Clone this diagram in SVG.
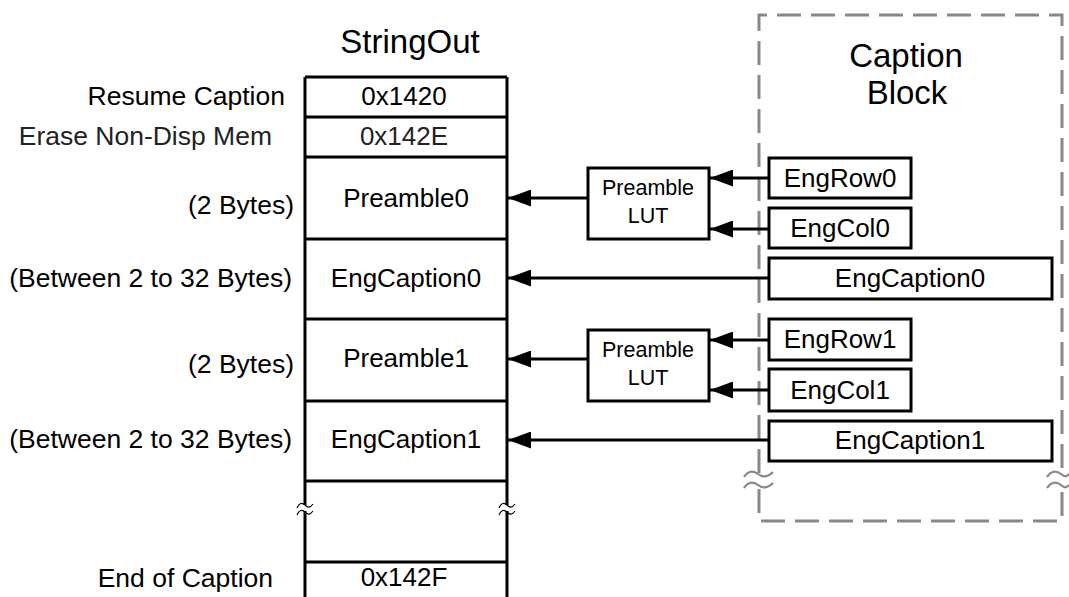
<svg xmlns="http://www.w3.org/2000/svg" width="1069" height="597" viewBox="0 0 1069 597">
  <style>
    text { font-family: "Liberation Sans", Arial, sans-serif; fill: #000; }
    .title { font-size: 33px; text-anchor: middle; }
    .lbl { font-size: 26.5px; text-anchor: end; }
    .cell { font-size: 26px; text-anchor: middle; }
    .thin { fill: #222; }
    .lut { font-size: 21.5px; text-anchor: middle; }
    .box { fill: #fff; stroke: #000; stroke-width: 3; }
    .wall { stroke: #000; stroke-width: 3; fill: none; }
    .conn { stroke: #000; stroke-width: 3; fill: none; marker-end: url(#ah); }
    .brk { stroke: #000; stroke-width: 1.2; fill: none; }
    .dash { stroke: #888; stroke-width: 3; fill: none; stroke-dasharray: 24 10; }
    .gbrk { stroke: #888; stroke-width: 2.2; fill: none; }
  </style>
  <defs>
    <marker id="ah" viewBox="0 0 23 17" refX="23" refY="8.5" markerWidth="23" markerHeight="17" markerUnits="userSpaceOnUse" orient="auto">
      <path d="M0,0 L23,8.5 L0,17 Z" fill="#000"/>
    </marker>
  </defs>

  <!-- Caption block container (dashed, broken near the bottom) -->
  <g id="caption-block">
    <path class="dash" d="M759,473 L759,15 L1062,15 L1062,473"/>
    <path class="dash" d="M759,489 L759,521 L1062,521 L1062,489"/>
    <path class="gbrk" d="M744,477 c4,-6 9,-7 14,-3 s10,3 15,-2"/>
    <path class="gbrk" d="M744,488 c4,-6 9,-7 14,-3 s10,3 15,-2"/>
    <path class="gbrk" d="M1047,477 c4,-6 9,-7 14,-3 s6,2 8,0"/>
    <path class="gbrk" d="M1047,488 c4,-6 9,-7 14,-3 s6,2 8,0"/>
    <text class="title" x="906" y="67" font-size="31">Caption</text>
    <text class="title" x="907" y="104" font-size="31">Block</text>
  </g>

  <!-- StringOut memory column -->
  <g id="stringout">
    <text class="title" x="410" y="53">StringOut</text>
    <path class="wall" d="M305,77 L305,505 M305,511 L305,600"/>
    <path class="wall" d="M507,77 L507,505 M507,511 L507,600"/>
    <path class="wall" d="M305,77 L507,77 M305,117 L507,117 M305,157 L507,157 M305,239 L507,239 M305,319 L507,319 M305,401 L507,401 M305,481 L507,481 M305,562 L507,562"/>
    <path class="brk" d="M297,508 c2,-5 5,-6 8,-3 s5,3 8,-1"/>
    <path class="brk" d="M297,515 c2,-5 5,-6 8,-3 s5,3 8,-1"/>
    <path class="brk" d="M499,508 c2,-5 5,-6 8,-3 s5,3 8,-1"/>
    <path class="brk" d="M499,515 c2,-5 5,-6 8,-3 s5,3 8,-1"/>
  </g>

  <g id="row-resume">
    <text class="lbl" x="285" y="105">Resume Caption</text>
    <text class="cell" x="404" y="105">0x1420</text>
  </g>
  <g id="row-erase">
    <text class="lbl thin" x="272" y="145" font-size="25.5">Erase Non-Disp Mem</text>
    <text class="cell thin" x="404" y="145">0x142E</text>
  </g>
  <g id="row-preamble0">
    <text class="lbl" x="294" y="214">(2 Bytes)</text>
    <text class="cell" x="406" y="207">Preamble0</text>
  </g>
  <g id="row-engcaption0">
    <text class="lbl" x="292" y="287">(Between 2 to 32 Bytes)</text>
    <text class="cell" x="406" y="287">EngCaption0</text>
  </g>
  <g id="row-preamble1">
    <text class="lbl" x="294" y="373">(2 Bytes)</text>
    <text class="cell" x="406" y="367">Preamble1</text>
  </g>
  <g id="row-engcaption1">
    <text class="lbl" x="292" y="448">(Between 2 to 32 Bytes)</text>
    <text class="cell" x="406" y="448">EngCaption1</text>
  </g>
  <g id="row-end">
    <text class="lbl" x="273" y="587">End of Caption</text>
    <text class="cell" x="404" y="586">0x142F</text>
  </g>

  <!-- Lookup tables -->
  <g id="lut0">
    <rect class="box" x="588" y="168" width="121" height="71"/>
    <text class="lut" x="648" y="195">Preamble</text>
    <text class="lut" x="648" y="223">LUT</text>
  </g>
  <g id="lut1">
    <rect class="box" x="588" y="330" width="121" height="71"/>
    <text class="lut" x="648" y="357">Preamble</text>
    <text class="lut" x="648" y="385">LUT</text>
  </g>

  <!-- Caption block fields -->
  <g id="engrow0">
    <rect class="box" x="769" y="158" width="142" height="40"/>
    <text class="cell" x="840" y="187">EngRow0</text>
  </g>
  <g id="engcol0">
    <rect class="box" x="769" y="208" width="142" height="40"/>
    <text class="cell" x="840" y="237">EngCol0</text>
  </g>
  <g id="engcaption0">
    <rect class="box" x="769" y="258" width="283" height="41"/>
    <text class="cell" x="910" y="287">EngCaption0</text>
  </g>
  <g id="engrow1">
    <rect class="box" x="769" y="319" width="142" height="41"/>
    <text class="cell" x="840" y="348">EngRow1</text>
  </g>
  <g id="engcol1">
    <rect class="box" x="769" y="369" width="142" height="42"/>
    <text class="cell" x="840" y="399">EngCol1</text>
  </g>
  <g id="engcaption1">
    <rect class="box" x="769" y="421" width="283" height="40"/>
    <text class="cell" x="910" y="449">EngCaption1</text>
  </g>

  <!-- Connectors -->
  <g id="connectors">
    <line class="conn" x1="769" y1="178" x2="710" y2="178"/>
    <line class="conn" x1="769" y1="229" x2="710" y2="229"/>
    <line class="conn" x1="588" y1="198" x2="508" y2="198"/>
    <line class="conn" x1="769" y1="278" x2="508" y2="278"/>
    <line class="conn" x1="769" y1="340" x2="710" y2="340"/>
    <line class="conn" x1="769" y1="390" x2="710" y2="390"/>
    <line class="conn" x1="588" y1="359" x2="508" y2="359"/>
    <line class="conn" x1="769" y1="440" x2="508" y2="440"/>
  </g>
</svg>
